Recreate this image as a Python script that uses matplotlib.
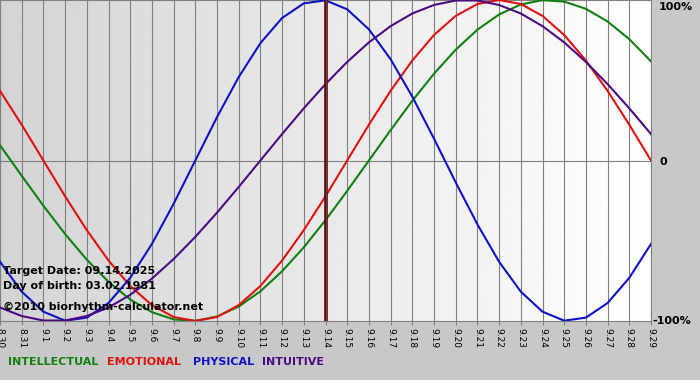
import numpy as np
import matplotlib
matplotlib.use("Agg")
import matplotlib.pyplot as plt

# ----------------------------
# Data (daily values, 8.30 .. 9.29)
# ----------------------------
days = ["8.30", "8.31"] + [f"9.{d}" for d in range(1, 30)]

physical = [-0.631, -0.817, -0.942, -0.998, -0.979, -0.888, -0.731, -0.520,
            -0.270, 0.000, 0.270, 0.520, 0.731, 0.888, 0.979, 0.998,
            0.942, 0.817, 0.631, 0.398, 0.136, -0.136, -0.398, -0.631,
            -0.817, -0.942, -0.998, -0.979, -0.888, -0.731, -0.520]

emotional = [0.434, 0.223, 0.000, -0.223, -0.434, -0.623, -0.782, -0.901,
             -0.975, -1.000, -0.975, -0.901, -0.782, -0.623, -0.434, -0.223,
             0.000, 0.223, 0.434, 0.623, 0.782, 0.901, 0.975, 1.000,
             0.975, 0.901, 0.782, 0.623, 0.434, 0.223, 0.000]

intellectual = [0.095, -0.095, -0.282, -0.458, -0.618, -0.756, -0.866, -0.945,
                -0.990, -0.999, -0.972, -0.910, -0.815, -0.690, -0.541, -0.372,
                -0.189, 0.000, 0.189, 0.372, 0.541, 0.690, 0.815, 0.910,
                0.972, 0.999, 0.990, 0.945, 0.866, 0.756, 0.618]

intuitive = [-0.916, -0.969, -0.997, -0.997, -0.969, -0.916, -0.837, -0.736,
             -0.614, -0.476, -0.325, -0.165, 0.000, 0.165, 0.325, 0.476,
             0.614, 0.736, 0.837, 0.916, 0.969, 0.997, 0.997, 0.969,
             0.916, 0.837, 0.736, 0.614, 0.476, 0.325, 0.165]

target_idx = days.index("9.14")

# ----------------------------
# Figure
# ----------------------------
fig = plt.figure(figsize=(7, 3.8), dpi=100, facecolor="#c8c8c8")
ax = fig.add_axes([0, 1 - 321 / 380, 651 / 700, 321 / 380])
x = np.arange(len(days))
ax.set_xlim(0, len(days) - 1)
ax.set_ylim(-1, 1)

# gradient background
grad = np.linspace(0.83, 1.0, 256).reshape(1, -1)
ax.imshow(grad, cmap="gray", vmin=0, vmax=1, aspect="auto",
          extent=[0, len(days) - 1, -1, 1], zorder=0)

for xi in x:
    ax.axvline(xi, color="#808080", lw=0.8, zorder=1)
ax.axhline(0, color="#808080", lw=0.8, zorder=1)

ax.plot(x, intellectual, color="#108010", lw=1.5, zorder=3)
ax.plot(x, emotional, color="#e01010", lw=1.5, zorder=3)
ax.plot(x, physical, color="#1010c8", lw=1.5, zorder=3)
ax.plot(x, intuitive, color="#4b0a82", lw=1.5, zorder=3)

ax.axvline(target_idx, color="#3a1010", lw=2.6, zorder=4)
ax.axvline(target_idx, color="#9a2a2a", lw=1.0, zorder=5)

for s in ax.spines.values():
    s.set_color("#808080")
    s.set_linewidth(0.8)

ax.set_xticks(x)
ax.set_xticklabels(days, rotation=-90, fontsize=6.5)
ax.tick_params(axis="x", length=3, color="#808080", pad=2)
ax.set_yticks([])

# right labels
fig.text(659 / 700, 1 - 7 / 380, "100%", fontsize=8, fontweight="bold", va="center")
fig.text(659 / 700, 1 - 162 / 380, "0", fontsize=8, fontweight="bold", va="center")
fig.text(652 / 700, 1 - 321 / 380, "-100%", fontsize=8, fontweight="bold", va="center")

# info text
ax.text(0.004, 0.156, "Target Date: 09.14.2025", transform=ax.transAxes,
        fontsize=8, fontweight="bold", va="center", zorder=6)
ax.text(0.004, 0.109, "Day of birth: 03.02.1981", transform=ax.transAxes,
        fontsize=8, fontweight="bold", va="center", zorder=6)
ax.text(0.004, 0.044, "\u00a92010 biorhythm-calculator.net", transform=ax.transAxes,
        fontsize=8, fontweight="bold", va="center", zorder=6)

# legend
legend = [("INTELLECTUAL", "#108010", 8), ("EMOTIONAL", "#e01010", 107),
          ("PHYSICAL", "#1010c8", 193), ("INTUITIVE", "#4b0a82", 262)]
for name, col, px in legend:
    fig.text(px / 700, 1 - 362 / 380, name, color=col, fontsize=8,
             fontweight="bold", va="center")

fig.savefig("out.png", dpi=100, facecolor=fig.get_facecolor())
